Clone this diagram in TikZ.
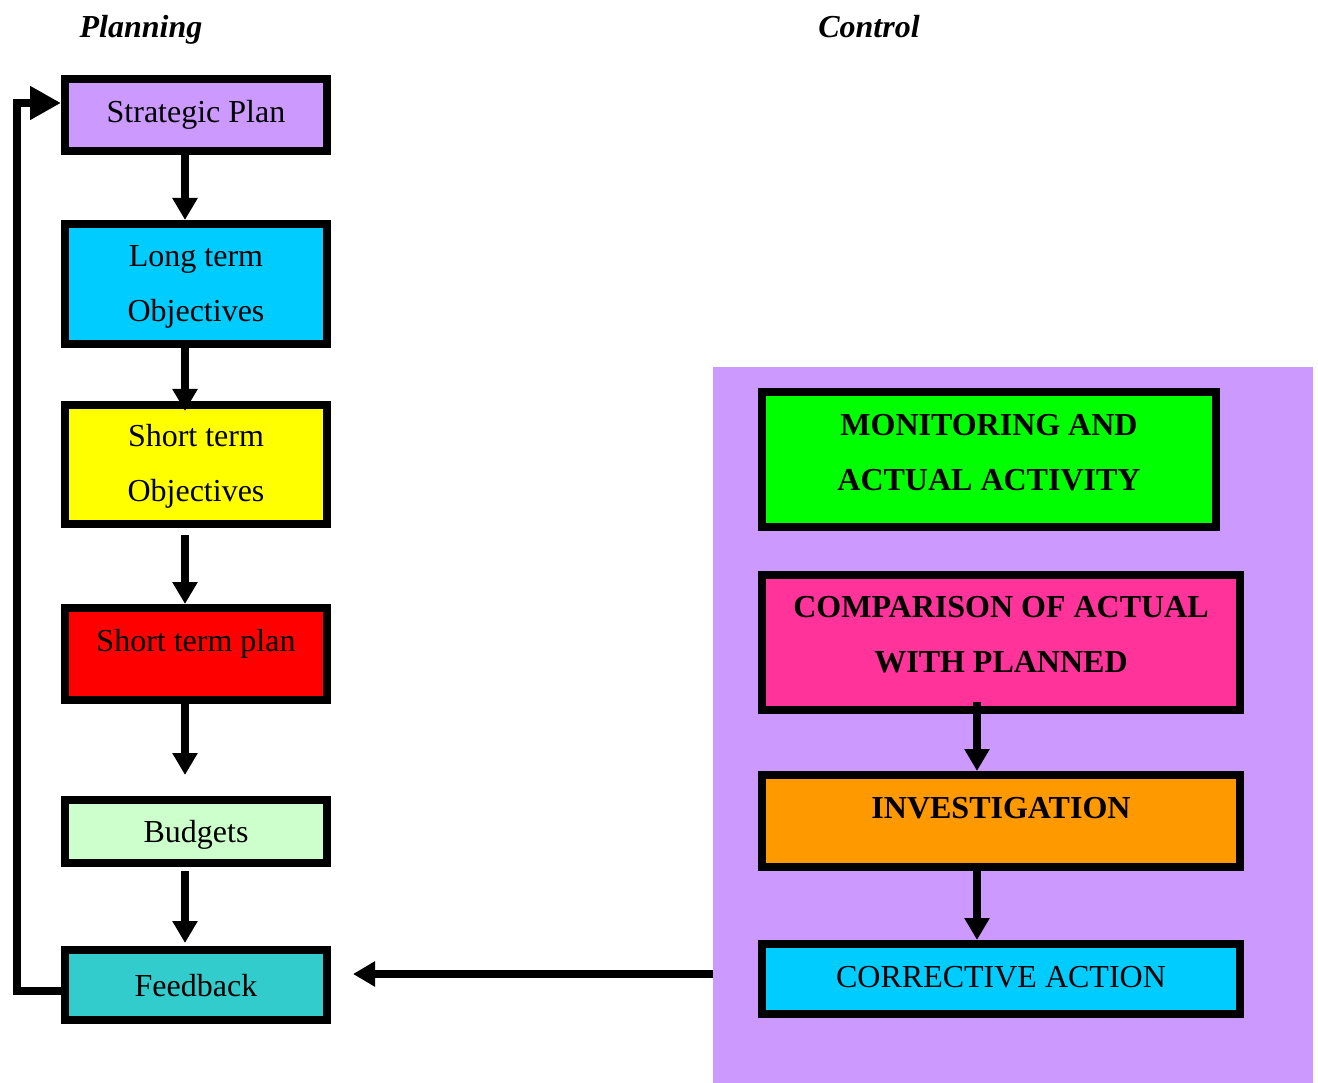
\documentclass[tikz,border=0pt]{standalone}
\usepackage{fontspec}
\setmainfont{Liberation Serif}
\usetikzlibrary{arrows.meta}

\definecolor{lilac}{HTML}{CC99FF}
\definecolor{skyc}{HTML}{00CCFF}
\definecolor{yel}{HTML}{FFFF00}
\definecolor{redc}{HTML}{FF0000}
\definecolor{mint}{HTML}{CCFFCC}
\definecolor{teal2}{HTML}{33CCCC}
\definecolor{lime2}{HTML}{00FF00}
\definecolor{pink2}{HTML}{FF3399}
\definecolor{orange2}{HTML}{FF9900}

\begin{document}
\begin{tikzpicture}[x=1pt,y=-1pt,
  flowbox/.style={draw=black, line width=8pt, rectangle, inner sep=0pt},
  label32/.style={font=\fontsize{32}{55}\selectfont, align=center, inner sep=0pt},
  labelbf/.style={label32, font=\fontsize{32}{55}\selectfont\bfseries},
  arr/.style={line width=8pt, -{Triangle[width=24pt,length=22pt]}},
  bigarr/.style={line width=8pt, -{Triangle[width=32pt,length=31pt]}}
]
\useasboundingbox (0,0) rectangle (1318,1083);

% headings
\node[label32, font=\fontsize{32}{40}\selectfont\bfseries\itshape] (hplan) at (141,30) {Planning};
\node[label32, font=\fontsize{32}{40}\selectfont\bfseries\itshape] (hctrl) at (869,27) {Control};

% control panel background
\node[fill=lilac, inner sep=0pt, minimum width=600, minimum height=716] (panel) at (1013,725) {};

% planning column
\node[flowbox, fill=lilac,  minimum width=262, minimum height=72]  (sp)  at (196,115) {};
\node[flowbox, fill=skyc,   minimum width=262, minimum height=120] (lt)  at (196,284) {};
\node[flowbox, fill=yel,    minimum width=262, minimum height=119] (st)  at (196,464.5) {};
\node[flowbox, fill=redc,   minimum width=262, minimum height=92]  (stp) at (196,654) {};
\node[flowbox, fill=mint,   minimum width=262, minimum height=63]  (bud) at (196,831.5) {};
\node[flowbox, fill=teal2,  minimum width=262, minimum height=70]  (fb)  at (196,985) {};

\node[label32] (tsp)  at (196,115) {Strategic Plan};
\node[label32] (tlt)  at (196,286.5) {Long term\\Objectives};
\node[label32] (tst)  at (196,466.5) {Short term\\Objectives};
\node[label32] (tstp) at (196,644) {Short term plan};
\node[label32] (tbud) at (196,835) {Budgets};
\node[label32] (tfb)  at (196,986) {Feedback};

% control column
\node[flowbox, fill=lime2,   minimum width=454, minimum height=135] (mon) at (989,459.5) {};
\node[flowbox, fill=pink2,   minimum width=478, minimum height=135] (cmp) at (1001,642.5) {};
\node[flowbox, fill=orange2, minimum width=478, minimum height=92]  (inv) at (1001,821) {};
\node[flowbox, fill=skyc,    minimum width=478, minimum height=70]  (cor) at (1001,979) {};

\node[labelbf] (tmon) at (989,453) {MONITORING AND\\ACTUAL ACTIVITY};
\node[labelbf] (tcmp) at (1001,635) {COMPARISON OF ACTUAL\\WITH PLANNED};
\node[labelbf] (tinv) at (1001,808) {INVESTIGATION};
\node[label32] (tcor) at (1001,977) {CORRECTIVE ACTION};

% planning arrows
\draw[arr] ([xshift=-11pt]sp.south) -- ([xshift=-11pt]lt.north);
\draw[arr] ([xshift=-11pt]lt.south) -- ([xshift=-11pt,yshift=-10pt]st.north);
\draw[arr] ([xshift=-11pt,yshift=-7pt]st.south) -- ([xshift=-11pt]stp.north);
\draw[arr] ([xshift=-11pt]stp.south) -- ([xshift=-11pt,yshift=21pt]bud.north);
\draw[arr] ([xshift=-11pt,yshift=-4pt]bud.south) -- ([xshift=-11pt,yshift=3pt]fb.north);

% control arrows
\draw[arr] ([xshift=-24pt,yshift=12pt]cmp.south) -- ([xshift=-24pt]inv.north);
\draw[arr] ([xshift=-24pt]inv.south) -- ([xshift=-24pt]cor.north);

% feedback from control to planning
\coordinate (fbin) at (713,974);
\coordinate (fbtip) at ([xshift=22pt]fb.east);
\draw[arr] (fbin) -- (fbin -| fbtip);

% loop back to the strategic plan
\coordinate (loopl) at (17,0);
\coordinate (spin) at ([yshift=12pt]sp.west);
\draw[bigarr, line join=miter] ([yshift=-6pt]fb.west) -| (loopl |- spin) -- (spin);
\end{tikzpicture}
\end{document}
